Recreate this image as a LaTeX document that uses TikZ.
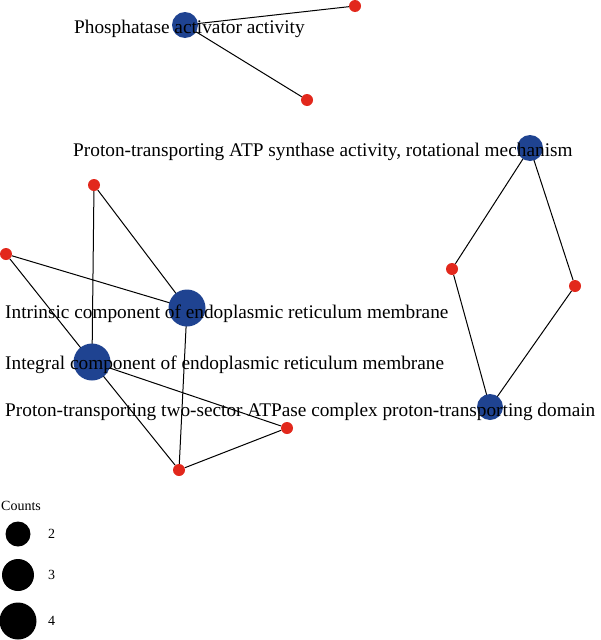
\documentclass[tikz,border=0pt]{standalone}
\usepackage{fontspec}
\setmainfont{Liberation Serif}
\usetikzlibrary{backgrounds}
\definecolor{termblue}{RGB}{31,67,145}
\definecolor{genered}{RGB}{226,40,28}
\begin{document}
\begin{tikzpicture}[x=1pt,y=-1pt,line join=round,line cap=round,
	term/.style={circle,fill=termblue,inner sep=0pt,minimum size=#1},
	gene/.style={circle,fill=genered,inner sep=0pt,minimum size=12pt},
	lab/.style={anchor=base west,inner sep=0pt,font=\fontsize{19.3}{22}\selectfont},
	edge/.style={line width=1pt}]
	\useasboundingbox (0,0) rectangle (600,640);
	% terms
	\node[term=26pt] (phos) at (185,25) {};
	\node[term=26pt] (atps) at (530,148) {};
	\node[term=26pt] (sect) at (490,407) {};
	\node[term=37pt] (intr) at (187,308) {};
	\node[term=37pt] (inte) at (92,362) {};
	% genes
	\node[gene] (g1) at (355,6) {};
	\node[gene] (g2) at (307,100) {};
	\node[gene] (g3) at (452,269) {};
	\node[gene] (g4) at (575,286) {};
	\node[gene] (g5) at (94,185) {};
	\node[gene] (g6) at (6,254) {};
	\node[gene] (g7) at (287,428) {};
	\node[gene] (g8) at (179,470) {};
	\begin{pgfonlayer}{background}
		\draw[edge] (phos.center)--(g1) (phos.center)--(g2);
		\draw[edge] (atps.center)--(g3) (atps.center)--(g4) (g3)--(sect.center) (g4)--(sect.center);
		\draw[edge] (g5)--(intr.center) (g5)--(inte.center) (g6)--(intr.center) (g6)--(inte.center);
		\draw[edge] (inte.center)--(g7) (inte.center)--(g8) (intr.center)--(g8) (g8)--(g7);
	\end{pgfonlayer}
	% labels
	\node[lab] (lphos) at (74,33) {Phosphatase activator activity};
	\node[lab] (latps) at (73,156) {Proton-transporting ATP synthase activity, rotational mechanism};
	\node[lab] (lintr) at (5,318) {Intrinsic component of endoplasmic reticulum membrane};
	\node[lab] (linte) at (5,369) {Integral component of endoplasmic reticulum membrane};
	\node[lab] (lsect) at (5,416) {Proton-transporting two-sector ATPase complex proton-transporting domain};
	% legend
	\node[anchor=base west,inner sep=0pt,font=\fontsize{14}{16}\selectfont] (counts) at (1,510) {Counts};
	\foreach \c/\d/\y in {2/25/534,3/32/575,4/37/621}{
		\node[circle,fill=black,inner sep=0pt,minimum size=\d pt] (leg\c) at (18,\y) {};
		\node[anchor=west,inner sep=0pt,font=\fontsize{14}{16}\selectfont] (num\c) at (48,\y) {\c};
	}
\end{tikzpicture}
\end{document}
